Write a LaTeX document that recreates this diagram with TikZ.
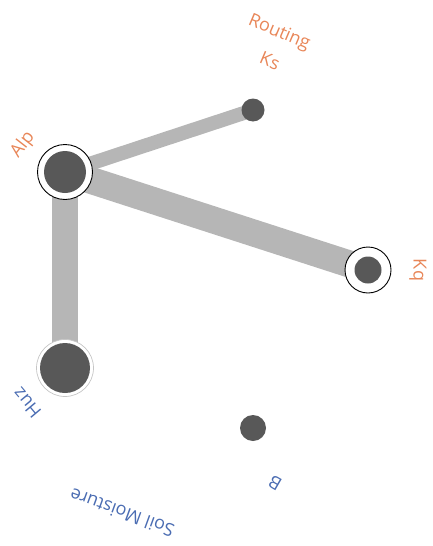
\documentclass[tikz,border=0pt]{standalone}
\usepackage{fontspec}
\setmainfont{Open Sans}
\usetikzlibrary{backgrounds}

\definecolor{linkgray}{RGB}{182,182,182}
\definecolor{nodedark}{RGB}{88,88,88}
\definecolor{lblorange}{RGB}{232,134,88}
\definecolor{lblblue}{RGB}{74,108,178}

\begin{document}
\begin{tikzpicture}[
  x=1pt, y=-1pt,
  ring/.style={draw, circle, fill=white, line width=0.9pt, inner sep=0pt},
  dot/.style={circle, fill=nodedark, inner sep=0pt},
  link/.style={draw=linkgray},
  lbl/.style={font=\fontsize{18}{18}\selectfont, inner sep=0pt}
]
  \useasboundingbox (0,0) rectangle (432,546);

  \node[ring, minimum size=55pt] (alpring) at (65,172) {};
  \node[dot, minimum size=42pt] (alp) at (alpring) {};
  \node[dot, minimum size=23pt] (ks) at (253,110) {};
  \node[ring, minimum size=46pt] (kqring) at (368,270) {};
  \node[dot, minimum size=27pt] (kq) at (kqring) {};
  \node[ring, draw=gray!45, line width=0.7pt, minimum size=57pt] (huzring) at (65,368) {};
  \node[dot, minimum size=50pt] (huz) at (huzring) {};
  \node[dot, minimum size=26pt] (b) at (253,428) {};

  \begin{scope}[on background layer]
    \draw[link, line width=14pt] (alp.center) -- (ks.center);
    \draw[link, line width=27pt] (alp.center) -- (kq.center);
    \draw[link, line width=26pt] (alp.center) -- (huz.center);
  \end{scope}

  \node[lbl, text=lblorange, rotate=-23] (routinglbl) at (279,33) {Routing};
  \node[lbl, text=lblorange, rotate=-23] (kslbl) at (270,61) {Ks};
  \node[lbl, text=lblorange, rotate=52] (alplbl) at (23,145) {Alp};
  \node[lbl, text=lblorange, rotate=-90] (kqlbl) at (418,270) {Kq};
  \node[lbl, text=lblblue, rotate=130] (huzlbl) at (27,403) {Huz};
  \node[lbl, text=lblblue, rotate=160] (soillbl) at (122,513) {Soil Moisture};
  \node[lbl, text=lblblue, rotate=150] (blbl) at (275,483) {B};
\end{tikzpicture}
\end{document}
